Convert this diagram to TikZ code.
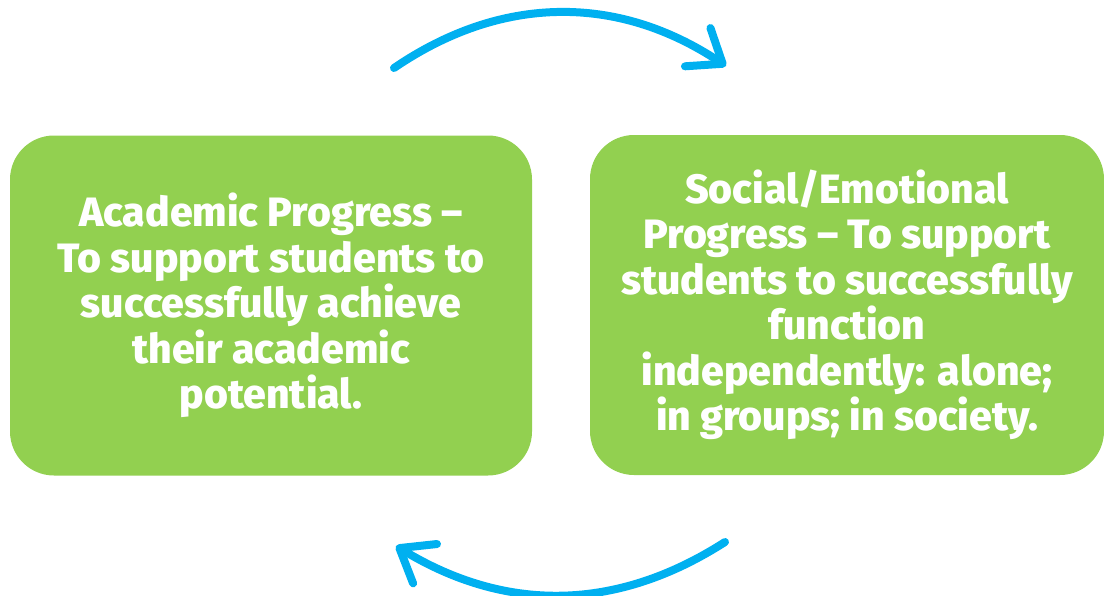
\documentclass[tikz,border=0pt]{standalone}
\usepackage{fontspec}
\setmainfont{Fira Sans}[BoldFont={Fira Sans ExtraBold}]
\usetikzlibrary{arrows.meta}
\definecolor{boxgreen}{HTML}{92D050}
\definecolor{arrowblue}{HTML}{00B0F0}
\tikzset{
  greenbox/.style={fill=boxgreen, draw=none, rounded corners=44pt, text=white,
    align=center, font=\fontsize{41}{45.5}\selectfont\bfseries, inner sep=0pt},
  cyclearrow/.style={draw=arrowblue, line width=8pt, line cap=round,
    -{Straight Barb[length=30pt, width=46pt, line cap=round, line join=round]}},
}
\begin{document}
\begin{tikzpicture}[x=1pt,y=-1pt]
\useasboundingbox (0,0) rectangle (1104,595);
\node[greenbox, minimum width=522pt, minimum height=340pt] (acad) at (271,305.5)
  {Academic Progress --\\To support students to\\successfully achieve\\their academic\\potential.};
\node[greenbox, minimum width=514pt, minimum height=340pt] (social) at (847,305)
  {Social/Emotional\\Progress -- To support\\students to successfully\\function\\independently: alone;\\in groups; in society.};
\coordinate (t1) at (394,68);
\coordinate (t2) at (726,66);
\coordinate (b1) at (725,542);
\coordinate (b2) at (396,546);
\draw[cyclearrow] (t1) to[bend left=34] (t2);
\draw[cyclearrow] (b1) to[bend left=32] (b2);
\end{tikzpicture}
\end{document}
